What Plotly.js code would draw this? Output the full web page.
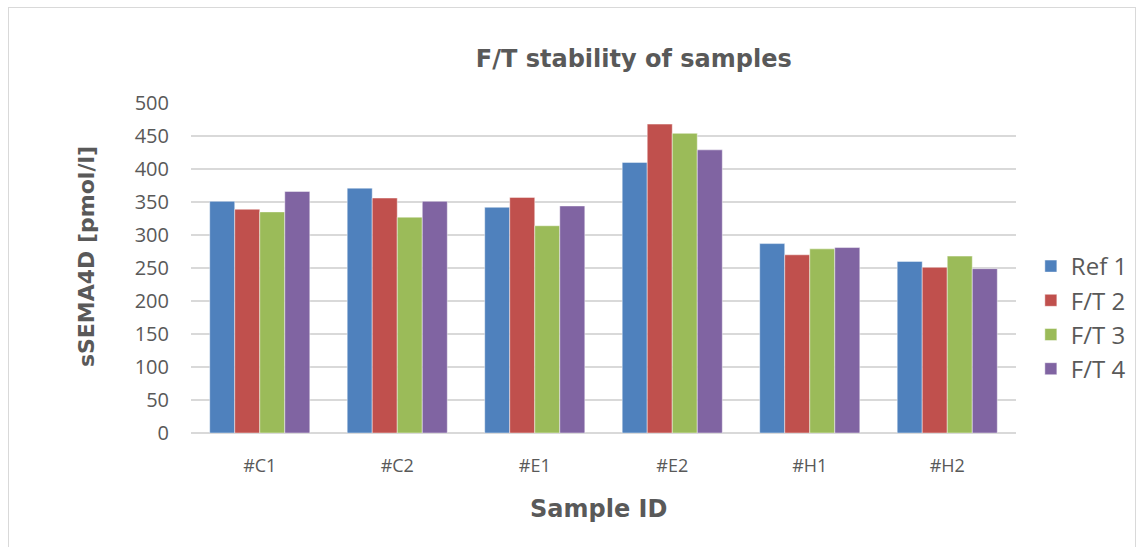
<!DOCTYPE html>
<html><head><meta charset="utf-8">
<script src="https://cdn.plot.ly/plotly-3.0.1.min.js"></script>
<style>body{margin:0;background:#fff}#frame{position:absolute;left:8px;top:7px;width:1126px;height:560px;border:1px solid #d9d9d9;pointer-events:none}</style>
</head><body>
<div id="chart" style="width:1144px;height:547px"></div>
<div id="frame"></div>
<script>
const categories = ['#C1','#C2','#E1','#E2','#H1','#H2'];
const seriesNames = ['Ref 1','F/T 2','F/T 3','F/T 4'];
const ref1 = [351, 371, 342, 410, 287, 260];
const ft2  = [339, 356, 357, 468, 270, 251];
const ft3  = [335, 327, 314, 454, 279, 268];
const ft4  = [366, 351, 344, 429, 281, 249];
const yTicks = [0,50,100,150,200,250,300,350,400,450,500];
const colors = ['#4F81BD','#C0504D','#9BBB59','#8064A2'];
const values = [ref1, ft2, ft3, ft4];
const boldFont = 'DejaVu Sans, Verdana, sans-serif';
const textFont = 'Open Sans, Noto Sans, sans-serif';
const traces = values.map((v,i)=>({
  type:'bar', x:categories, y:v, name:seriesNames[i],
  marker:{color:colors[i], line:{color:'rgba(255,255,255,0.45)', width:1}},
  hoverinfo:'y'
}));
const layout = {
  width:1144, height:547,
  margin:{l:191, r:128, t:103, b:114, autoexpand:false},
  paper_bgcolor:'#fff', plot_bgcolor:'#fff',
  barmode:'group', bargap:0.272, bargroupgap:0,
  font:{family:textFont, color:'#595959', size:19},
  title:{text:'<b>F/T stability of samples</b>', font:{family:boldFont, size:24, color:'#595959'},
         x:0.554, xref:'container', xanchor:'center', y:0.892, yref:'container', yanchor:'middle'},
  xaxis:{type:'category', showgrid:false, showline:false, ticks:'',
         tickfont:{family:textFont, size:18, color:'#595959'}, ticklabelstandoff:20},
  yaxis:{range:[0,500], tickvals:yTicks, ticktext:yTicks.map(String), showgrid:true,
         gridcolor:'#d9d9d9', gridwidth:1.5, zeroline:true, zerolinecolor:'#d9d9d9', zerolinewidth:1.5,
         showline:false, ticks:'', tickfont:{family:textFont, size:20, color:'#595959'}, ticklabelstandoff:21},
  annotations:[
    {text:'<b>sSEMA4D [pmol/l]</b>', xref:'paper', yref:'paper', x:-0.1273, y:0.536, textangle:-90,
     xanchor:'center', yanchor:'middle', showarrow:false, font:{family:boldFont, size:22, color:'#595959'}},
    {text:'<b>Sample ID</b>', xref:'paper', yref:'paper', x:0.494, y:-0.23,
     xanchor:'center', yanchor:'middle', showarrow:false, font:{family:boldFont, size:24, color:'#595959'}}
  ],
  legend:{x:1.018, xanchor:'left', y:0.35, yanchor:'middle', font:{family:textFont, size:24, color:'#595959'},
          itemwidth:30, tracegroupgap:0, bgcolor:'rgba(0,0,0,0)'},
  showlegend:true
};
Plotly.newPlot('chart', traces, layout, {displayModeBar:false, staticPlot:true});
</script>
</body></html>
